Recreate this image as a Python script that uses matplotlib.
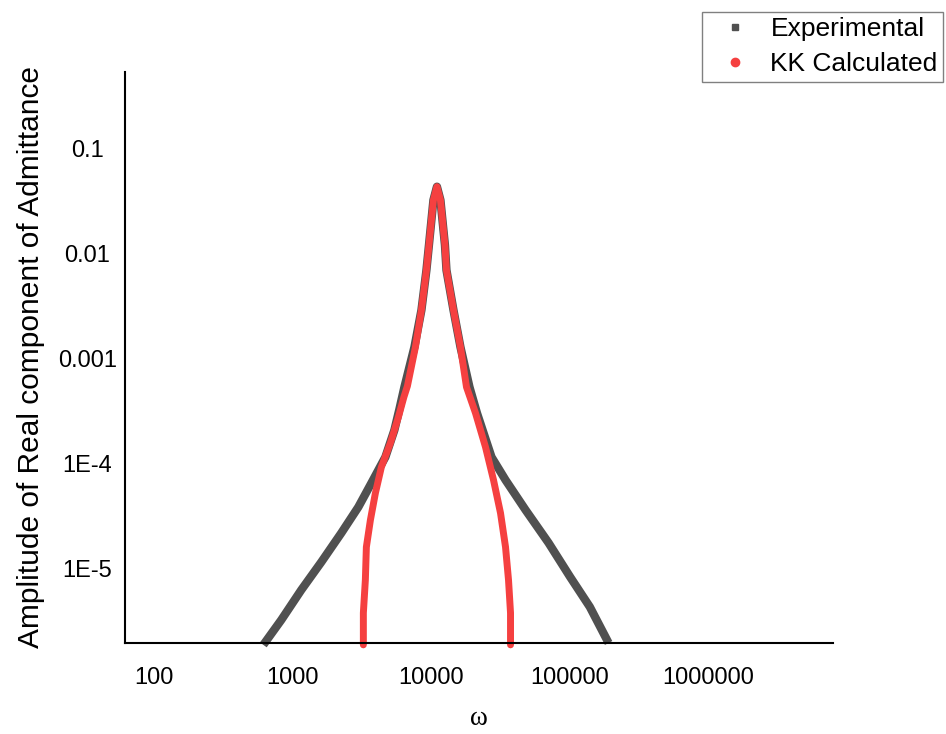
import matplotlib
matplotlib.use("Agg")
import matplotlib.pyplot as plt
from matplotlib.lines import Line2D

plt.rcParams['font.family'] = ['Liberation Sans', 'DejaVu Sans']

# Experimental
exp_w = [618, 833, 1161, 1620, 2258, 2995, 3720, 4693, 5449, 5924, 6435,
         7600, 8540, 9279, 9674, 10420, 11050, 11710, 12620, 12940, 14540, 16330, 18970,
         21480, 27340, 34510, 48120, 70550, 101000, 140000, 191200]
exp_y = [1.90e-6, 3.28e-6, 6.32e-6, 1.165e-5, 2.20e-5, 3.88e-5, 6.56e-5, 1.159e-4, 2.09e-4, 3.31e-4, 5.36e-4,
         1.286e-3, 2.89e-3, 6.93e-3, 1.198e-2, 3.21e-2, 4.30e-2, 3.21e-2, 1.198e-2, 6.93e-3, 2.89e-3, 1.286e-3, 5.36e-4,
         3.035e-4, 1.159e-4, 7.01e-5, 3.64e-5, 1.77e-5, 8.39e-6, 4.36e-6, 1.98e-6]

# KK Calculated
kk_w = [3255, 3255, 3365, 3422, 3659, 3976, 4391, 5100, 5826, 6383, 6765,
        7727, 8540, 9279, 9674, 10420, 11050, 11710, 12620, 12940, 14540, 16330, 18050,
        20960, 24750, 28270, 31760, 34510, 36270, 37500, 37500]
kk_y = [1.90e-6, 3.82e-6, 7.86e-6, 1.618e-5, 2.92e-5, 5.27e-5, 9.31e-5, 1.574e-4, 2.78e-4, 4.31e-4, 5.48e-4,
        1.286e-3, 2.89e-3, 6.93e-3, 1.198e-2, 3.21e-2, 4.30e-2, 3.21e-2, 1.198e-2, 6.93e-3, 2.89e-3, 1.286e-3, 5.36e-4,
        3.035e-4, 1.442e-4, 7.01e-5, 3.40e-5, 1.618e-5, 7.86e-6, 3.82e-6, 1.90e-6]

xticks = [100, 1000, 10000, 100000, 1000000]
xtick_labels = ["100", "1000", "10000", "100000", "1000000"]
yticks = [1e-5, 1e-4, 1e-3, 1e-2, 1e-1]
ytick_labels = ["1E-5", "1E-4", "0.001", "0.01", "0.1"]

grey = "#505050"
red = "#f54040"

fig = plt.figure(figsize=(9.46, 7.34), dpi=100)
ax = fig.add_axes([0.132, 0.124, 0.749, 0.778])
ax.plot(exp_w, exp_y, color=grey, lw=6, solid_capstyle='butt', solid_joinstyle='round', clip_on=False)
ax.plot(kk_w, kk_y, color=red, lw=5, solid_capstyle='round', solid_joinstyle='round', clip_on=False)

ax.set_xscale('log')
ax.set_yscale('log')
ax.set_xlim(62, 8e6)
ax.set_ylim(1.98e-6, 0.53)
ax.set_xticks(xticks)
ax.set_xticklabels(xtick_labels)
ax.set_yticks(yticks)
ax.set_yticklabels(ytick_labels, ha='center')
ax.minorticks_off()
ax.tick_params(length=0, labelsize=17)
ax.tick_params(axis='x', pad=17)
ax.tick_params(axis='y', pad=27)
for s in ['top', 'right']:
    ax.spines[s].set_visible(False)
for s in ['left', 'bottom']:
    ax.spines[s].set_linewidth(1.5)

ax.set_xlabel("ω", fontsize=19.5, family=['Liberation Serif', 'DejaVu Serif'], va='center')
ax.xaxis.set_label_coords(0.5, -0.133)
ax.set_ylabel("Amplitude of Real component of Admittance", fontsize=21.5)
ax.yaxis.set_label_coords(-0.113, 0.5)

handles = [Line2D([], [], ls='none', marker='s', color=grey, markersize=5),
           Line2D([], [], ls='none', marker='o', color=red, markersize=6)]
leg = fig.legend(handles, ["Experimental", "KK Calculated"], loc='upper right',
                 bbox_to_anchor=(943 / 946, 1 - 12 / 734), fontsize=19,
                 fancybox=False, edgecolor='#808080', framealpha=1,
                 borderaxespad=0, handlelength=2.1, handletextpad=0.3,
                 borderpad=0.2, labelspacing=0.42)
leg.get_frame().set_linewidth(1)

plt.savefig("out.png", dpi=100)
